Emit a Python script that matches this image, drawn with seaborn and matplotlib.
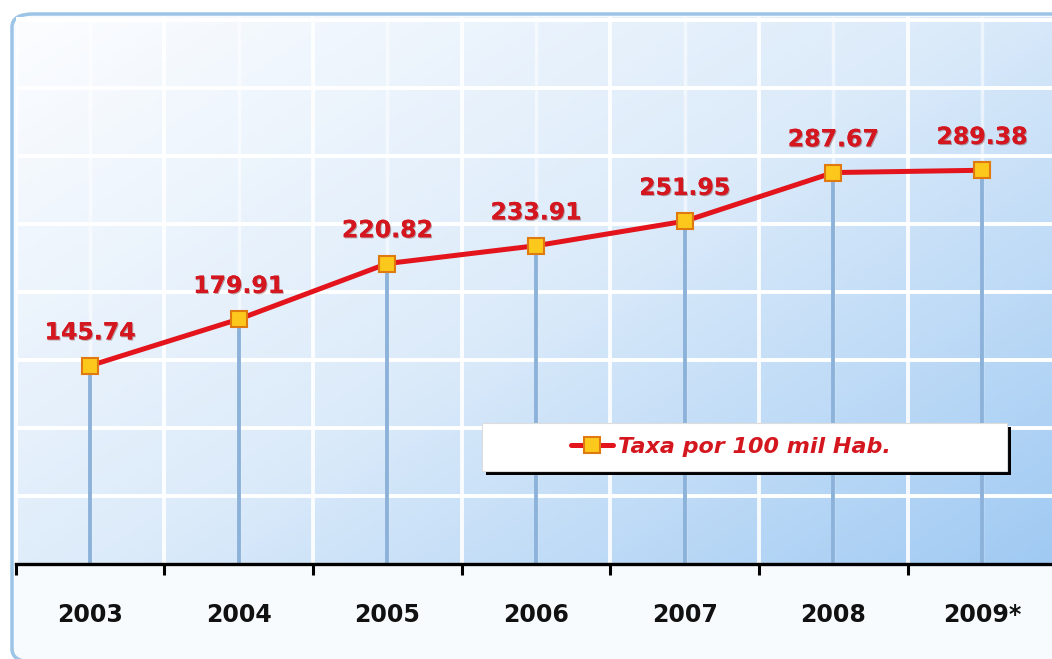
import numpy as np
import pandas as pd
import matplotlib
matplotlib.use("Agg")
import matplotlib.pyplot as plt
import matplotlib.patheffects as pe
from matplotlib.colors import LinearSegmentedColormap
from matplotlib.patches import FancyBboxPatch, Rectangle
from matplotlib.lines import Line2D
import seaborn as sns

# ---- data ----
years = ["2003", "2004", "2005", "2006", "2007", "2008", "2009*"]
rates = [145.74, 179.91, 220.82, 233.91, 251.95, 287.67, 289.38]
value_labels = ["145.74", "179.91", "220.82", "233.91", "251.95", "287.67", "289.38"]
series_name = "Taxa por 100 mil Hab."

sns.set_theme(style="white")
plt.rcParams["font.family"] = ["DejaVu Sans"]

W, H = 1052, 659
fig = plt.figure(figsize=(W / 100, H / 100), dpi=100)
fig.patch.set_facecolor("white")

# rounded outer frame
frame = FancyBboxPatch((12 / W, -3 / H), 1100 / W, 648 / H,
                       boxstyle="round,pad=0,rounding_size=0.02",
                       transform=fig.transFigure, facecolor="#f8fbfe",
                       edgecolor="#9cc4e6", linewidth=2.5, zorder=-5)
fig.patches.append(frame)

ax_left, ax_right = 15.7, 1056.4
ax_bottom, ax_top = 564, 17
ax = fig.add_axes([ax_left / W, (H - ax_bottom) / H,
                   (ax_right - ax_left) / W, (ax_bottom - ax_top) / H])
ax.set_facecolor("none")
ax.set_zorder(2)

n = len(years)
df = pd.DataFrame({"pos": np.arange(n), "year": years, "rate": rates})

xmin, xmax, ymin, ymax = -0.5, n - 0.5, 0, 402

# gradient background
ny, nx = 200, 300
xx, yy = np.meshgrid(np.linspace(0, 1, nx), np.linspace(1, 0, ny))
t = 0.55 * xx + 0.45 * (1 - yy)
cmap = LinearSegmentedColormap.from_list("bg", ["#fcfdff", "#dcebfa", "#a0caf3"])
ax.imshow(t, cmap=cmap, extent=(xmin, xmax, ymin, ymax), aspect="auto",
          origin="upper", zorder=0, vmin=0, vmax=1)

# white grid
for yv in np.arange(50, 401, 50):
    ax.axhline(yv, color="white", lw=2.8, zorder=1)
for xv in np.arange(-0.5, n, 1.0):
    ax.axvline(xv, color="white", lw=2.8, zorder=1, alpha=0.9)
for xv in np.arange(0, n, 1.0):
    ax.axvline(xv, color="white", lw=2.5, zorder=1, alpha=0.55)

# drop lines
ax.vlines(df["pos"], 0, df["rate"], color="#8db2da", lw=2.8, zorder=2)

sns.lineplot(data=df, x="pos", y="rate", ax=ax, color="#e3141c", lw=3.6,
             marker="s", markersize=11, markerfacecolor="#fcc81c",
             markeredgecolor="#e07a10", markeredgewidth=1.5, zorder=4,
             legend=False)

for xp, yv, lab in zip(df["pos"], df["rate"], value_labels):
    ax.annotate(lab, (xp, yv), xytext=(0, 24), textcoords="offset points",
                ha="center", va="center", fontsize=17, fontweight="bold",
                color="#d4161f", zorder=6,
                path_effects=[pe.withSimplePatchShadow(offset=(0.8, -0.8),
                                                       shadow_rgbFace="#600000",
                                                       alpha=0.35),
                              pe.Normal()])

ax.set_xlim(xmin, xmax)
ax.set_ylim(ymin, ymax)

# axes styling
for s in ["top", "right", "left"]:
    ax.spines[s].set_visible(False)
ax.spines["bottom"].set_color("black")
ax.spines["bottom"].set_linewidth(2.4)
ax.spines["bottom"].set_zorder(5)
ax.set_yticks([])
ax.set_xticks(df["pos"])
ax.set_xticklabels(years, fontsize=17, fontweight="bold", color="#111111")
ax.set_xticks(np.arange(-0.5, n, 1.0), minor=True)
ax.tick_params(axis="x", which="both", bottom=True)
ax.tick_params(axis="x", which="major", length=0, pad=28)
ax.tick_params(axis="x", which="minor", length=8, width=2.2, color="black",
               direction="out")
ax.set_xlabel("")
ax.set_ylabel("")

# legend box with shadow
bx0, bx1 = (482 - ax_left) / (ax_right - ax_left), (1007 - ax_left) / (ax_right - ax_left)
by0, by1 = (ax_bottom - 471) / (ax_bottom - ax_top), (ax_bottom - 423) / (ax_bottom - ax_top)
sh = Rectangle((bx0 + 0.004, by0 - 0.008), bx1 - bx0, by1 - by0,
               transform=ax.transAxes, facecolor="black", edgecolor="none", zorder=6)
box = Rectangle((bx0, by0), bx1 - bx0, by1 - by0, transform=ax.transAxes,
                facecolor="white", edgecolor="#dddddd", lw=0.8, zorder=7)
ax.add_patch(sh)
ax.add_patch(box)

handle = Line2D([], [], color="#e3141c", lw=3.6, marker="s", markersize=11,
                markerfacecolor="#fcc81c", markeredgecolor="#e07a10",
                markeredgewidth=1.5)
leg = ax.legend([handle], [series_name], loc="center",
                bbox_to_anchor=((bx0 + bx1) / 2 - 0.013, (by0 + by1) / 2),
                frameon=False, handlelength=1.9, handletextpad=0.25,
                prop={"size": 16, "weight": "bold", "style": "italic"})
leg.set_zorder(8)
for txt in leg.get_texts():
    txt.set_color("#d4161f")

fig.savefig("out.png", dpi=100)
